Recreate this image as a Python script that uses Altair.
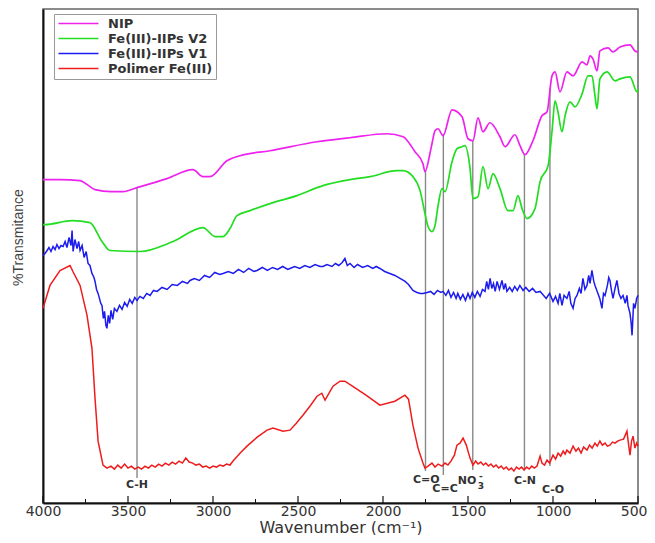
import altair as alt
import pandas as pd

# ---------------- data (wavenumber cm-1, transmittance arbitrary units) ----------------
nip_wn = [4000, 3988, 3900, 3782, 3740, 3694, 3600, 3529, 3447, 3271, 3118, 3059, 3018, 2918, 2841, 2665,
          2388, 2194, 1976, 1882, 1812, 1765, 1753, 1724, 1712, 1694, 1676, 1647, 1594, 1535, 1500,
          1471, 1441, 1412, 1371, 1312, 1282, 1224, 1194, 1165, 1118, 1065, 1035, 1006, 988, 959,
          918, 882, 829, 800, 782, 765, 741, 724, 676, 647, 606, 547, 518, 500]
nip_t = [324, 324, 324, 323, 319, 314, 312, 312, 316, 325, 334, 327, 327, 343, 348, 353,
         362, 366, 370, 367, 352, 340, 332, 350, 360, 373, 375, 368, 394, 387, 365,
         363, 386, 372, 381, 367, 357, 369, 358, 349, 363, 388, 392, 428, 432, 412,
         432, 428, 442, 439, 448, 445, 433, 453, 456, 452, 457, 459, 453, 452]

v2_wn = [4000, 3988, 3829, 3724, 3653, 3606, 3429, 3235, 3059, 2988, 2941, 2900, 2859, 2782, 2665,
         2506, 2353, 2194, 2076, 1918, 1882, 1824, 1782, 1753, 1735, 1712, 1694, 1676, 1653, 1635,
         1594, 1565, 1535, 1518, 1488, 1471, 1441, 1412, 1382, 1353, 1312, 1265, 1235, 1206, 1182,
         1153, 1106, 1076, 1029, 1006, 988, 971, 947, 929, 900, 871, 829, 794, 771, 753, 741, 724,
         682, 635, 606, 547, 506, 500]
v2_t = [279, 279, 283, 281, 262, 253, 252, 262, 276, 267, 267, 275, 288, 293, 300,
        308, 318, 324, 327, 333, 333, 327, 313, 290, 277, 272, 278, 298, 315, 312,
        342, 355, 357, 358, 335, 305, 307, 337, 315, 330, 315, 293, 293, 308, 295,
        285, 295, 322, 338, 372, 403, 392, 372, 388, 402, 397, 410, 428, 428, 408, 395, 425,
        432, 423, 425, 427, 412, 415]

v1_wn = [4000, 3988, 3976, 3965, 3953, 3941, 3929, 3918, 3906, 3894, 3882, 3870, 3859, 3847, 3835,
         3829, 3823, 3812, 3800, 3790, 3782, 3770, 3758, 3746, 3735, 3724, 3712, 3700, 3694, 3685,
         3676, 3668, 3660, 3653, 3645, 3638, 3630, 3624, 3616, 3608, 3600, 3590, 3580, 3565, 3550,
         3535, 3520, 3505, 3490, 3475, 3460, 3447, 3430, 3410, 3390, 3370, 3350, 3329, 3300, 3270,
         3240, 3210, 3180, 3150, 3135, 3110, 3080, 3050, 3020, 2990, 2960, 2941, 2910, 2880, 2850,
         2820, 2790, 2760, 2741, 2710, 2680, 2650, 2620, 2590, 2560, 2547, 2520, 2490, 2460, 2430,
         2400, 2370, 2353, 2330, 2300, 2280, 2260, 2240, 2224, 2210, 2194, 2170, 2150, 2120, 2090,
         2060, 2040, 2018, 1990, 1960, 1930, 1900, 1870, 1850, 1824, 1800, 1780, 1765, 1740, 1720,
         1700, 1680, 1660, 1647, 1630, 1615, 1600, 1585, 1570, 1560, 1545, 1530, 1515, 1500, 1488,
         1475, 1460, 1445, 1429, 1415, 1400, 1390, 1380, 1370, 1360, 1350, 1340, 1329, 1315, 1300,
         1290, 1280, 1271, 1255, 1240, 1225, 1210, 1195, 1176, 1160, 1140, 1120, 1100, 1076, 1060,
         1040, 1020, 1000, 985, 970, 960, 947, 935, 918, 905, 895, 882, 870, 859, 845,
         835, 824, 812, 800, 790, 782, 771, 760, 753, 740, 725, 712, 703, 694, 680,
         672, 665, 655, 647, 635, 624, 612, 600, 588, 575, 565, 559, 547, 540, 535,
         526, 518, 508, 500]
v1_t = [248, 250, 253, 256, 252, 257, 254, 259, 255, 258, 257, 262, 256, 266, 258,
        273, 252, 264, 255, 262, 253, 258, 246, 252, 240, 238, 230, 226, 222, 214,
        210, 205, 200, 198, 185, 192, 178, 175, 188, 180, 193, 184, 195, 192, 198,
        194, 201, 197, 204, 200, 206, 203, 207, 205, 210, 208, 213, 212, 216, 214,
        219, 218, 222, 220, 223, 225, 223, 228, 226, 231, 229, 230, 232, 230, 234,
        231, 235, 232, 233, 236, 233, 236, 234, 237, 234, 235, 237, 235, 238, 236,
        239, 237, 237, 239, 237, 240, 238, 241, 245, 238, 240, 236, 239, 236, 238,
        235, 237, 235, 232, 230, 228, 225, 222, 219, 213, 211, 210, 210, 211, 212,
        209, 213, 211, 212, 208, 213, 206, 211, 205, 210, 204, 209, 203, 210, 205,
        211, 206, 212, 207, 214, 212, 222, 214, 225, 215, 220, 212, 222, 214, 223,
        214, 220, 212, 216, 212, 217, 213, 218, 213, 216, 212, 215, 211, 212, 209,
        205, 210, 202, 207, 200, 210, 198, 208, 205, 212, 200, 195, 205, 208, 215,
        210, 225, 214, 218, 228, 220, 233, 222, 218, 212, 205, 195, 210, 208, 218,
        226, 223, 212, 205, 215, 223, 210, 205, 208, 200, 208, 198, 190, 180, 168,
        200, 195, 205, 208]

pol_wn = [4000, 3959, 3900, 3841, 3824, 3782, 3741, 3712, 3694, 3676, 3647, 3624, 3600, 3580, 3560,
          3540, 3520, 3500, 3480, 3460, 3440, 3420, 3400, 3380, 3360, 3340, 3320, 3300, 3280, 3260,
          3240, 3220, 3200, 3180, 3160, 3140, 3120, 3100, 3080, 3060, 3040, 3020, 3000, 2980, 2960,
          2940, 2920, 2900, 2882, 2840, 2800, 2740, 2682, 2647, 2588, 2547, 2510, 2471, 2430, 2388,
          2360, 2341, 2294, 2253, 2224, 2180, 2100, 2018, 1930, 1871, 1850, 1824, 1794, 1765, 1753,
          1735, 1712, 1694, 1676, 1653, 1635, 1618, 1600, 1580, 1565, 1547, 1529, 1510, 1500, 1488,
          1471, 1455, 1441, 1425, 1410, 1395, 1380, 1365, 1350, 1335, 1320, 1305, 1290, 1275, 1260,
          1245, 1230, 1215, 1200, 1185, 1170, 1155, 1140, 1125, 1110, 1094, 1076, 1065, 1050, 1035,
          1020, 1000, 985, 970, 955, 940, 929, 918, 900, 882, 865, 850, 835, 820, 800,
          785, 770, 753, 740, 724, 710, 694, 680, 665, 650, 635, 620, 606, 585, 575,
          565, 555, 547, 538, 529, 518, 508, 500]
pol_t = [195, 218, 233, 238, 232, 218, 188, 155, 105, 62, 38, 35, 37, 34, 38,
         35, 39, 35, 37, 34, 36, 34, 37, 35, 38, 36, 39, 37, 40, 38,
         41, 39, 42, 40, 45, 41, 40, 38, 39, 36, 37, 35, 37, 36, 38,
         37, 39, 38, 42, 50, 57, 66, 73, 75, 72, 73, 80, 88, 97, 107,
         110, 103, 117, 122, 122, 117, 108, 98, 102, 108, 104, 78, 55, 40, 35,
         37, 40, 36, 39, 37, 40, 38, 42, 48, 58, 60, 65, 58, 52, 45,
         38, 42, 39, 41, 38, 40, 37, 39, 36, 38, 35, 37, 34, 36, 33,
         35, 32, 36, 34, 36, 33, 36, 34, 37, 35, 37, 47, 40, 38, 43,
         40, 48, 44, 50, 47, 52, 49, 53, 50, 57, 52, 55, 50, 56, 53,
         58, 55, 60, 57, 62, 58, 60, 57, 58, 61, 60, 62, 63, 64, 68,
         72, 58, 48, 62, 67, 55, 60, 57]

series_names = ["NIP", "Fe(III)-IIPs V2", "Fe(III)-IIPs V1", "Polimer Fe(III)"]
series_colors = ["#ee22ee", "#22dd22", "#1c1cee", "#ee1c1c"]

# band assignment lines
ann_wn = [3447, 1750, 1645, 1472, 1168, 1018]
ann_top = [316, 333, 370, 363, 350, 415]
ann_bottom = [25, 32, 28, 33, 33, 37]

label_text = ["C-H", "C=O", "C=C", "NO", "C-N", "C-O"]
label_wn = [3447, 1745, 1635, 1506, 1165, 1000]
label_t = [18, 23, 14, 22, 22, 13]

ion_text = ["3", "-"]
ion_wn = [1424, 1424]
ion_t = [17, 27]

major_ticks = [4000, 3500, 3000, 2500, 2000, 1500, 1000, 500]
minor_ticks = [3750, 3250, 2750, 2250, 1750, 1250, 750]

# ---------------- build tables ----------------
frames = []
for name, wn, t in [(series_names[0], nip_wn, nip_t), (series_names[1], v2_wn, v2_t),
                    (series_names[2], v1_wn, v1_t), (series_names[3], pol_wn, pol_t)]:
    frames.append(pd.DataFrame({"wn": wn, "t": t, "series": name}))
df = pd.concat(frames, ignore_index=True)
smooth_df = df[df["series"].isin(series_names[:2])]
noisy_df = df[df["series"].isin(series_names[2:])]

ann_df = pd.DataFrame({"wn": ann_wn, "top": ann_top, "bottom": ann_bottom})
lab_df = pd.DataFrame({"wn": label_wn, "t": label_t, "text": label_text})
ion_df = pd.DataFrame({"wn": ion_wn, "t": ion_t, "text": ion_text})
maj_df = pd.DataFrame({"wn": major_ticks, "a": 0, "b": 7})
min_df = pd.DataFrame({"wn": minor_ticks, "a": 0, "b": 4})

FONT = "DejaVu Sans"
xscale = alt.Scale(domain=[4000, 500], nice=False, zero=False)
yscale = alt.Scale(domain=[0, 495], nice=False, zero=False)

xaxis = alt.Axis(values=major_ticks, format="d", title="Wavenumber (cm⁻¹)", ticks=False,
                 grid=False, domainColor="#111", domainWidth=2, labelFontSize=14,
                 labelColor="#333", labelPadding=1, titleFontSize=16, titleColor="#333",
                 titleFontWeight="normal", titleY=29, titleBaseline="alphabetic",
                 labelFont=FONT, titleFont=FONT, labelFlush=False,
                 labelAlign={"condition": {"test": "datum.value == 500", "value": "right"},
                             "value": "center"},
                 labelOffset={"condition": {"test": "datum.value == 500", "value": 9},
                              "value": 0})
yaxis = alt.Axis(labels=False, ticks=False, grid=False, title="%Transmitance",
                 domainColor="#111", domainWidth=2, titleFontSize=14, titleColor="#444",
                 titleFontWeight="normal", titleX=-25, titleY=228, titleBaseline="middle",
                 titleFont="Liberation Sans Narrow, Liberation Sans")

color = alt.Color("series:N",
                  scale=alt.Scale(domain=series_names, range=series_colors),
                  sort=series_names,
                  legend=alt.Legend(title=None, orient="none", legendX=11, legendY=5,
                                    symbolType="M-4,0H4", symbolSize=100, symbolStrokeWidth=1.6,
                                    symbolOffset=15, labelOffset=23,
                                    labelFontSize=13, labelFont=FONT, labelFontWeight="bold",
                                    labelColor="#333", strokeColor="#999", padding=3,
                                    rowPadding=1, fillColor="white"))

lines_smooth = alt.Chart(smooth_df).mark_line(strokeWidth=1.7, interpolate="monotone").encode(
    x=alt.X("wn:Q", scale=xscale, axis=xaxis),
    y=alt.Y("t:Q", scale=yscale, axis=yaxis),
    color=color,
)
lines_noisy = alt.Chart(noisy_df).mark_line(strokeWidth=1.5).encode(
    x=alt.X("wn:Q", scale=xscale, axis=xaxis),
    y=alt.Y("t:Q", scale=yscale, axis=yaxis),
    color=color,
)

ann = alt.Chart(ann_df).mark_rule(color="#888", strokeWidth=1.4).encode(
    x="wn:Q", y="bottom:Q", y2="top:Q")

labels = alt.Chart(lab_df).mark_text(fontSize=11, fontWeight="bold", color="#333",
                                     font=FONT).encode(
    x="wn:Q", y="t:Q", text="text:N")
ion = alt.Chart(ion_df).mark_text(fontSize=9, fontWeight="bold", color="#333",
                                  font=FONT).encode(
    x="wn:Q", y="t:Q", text="text:N")

maj = alt.Chart(maj_df).mark_rule(color="#111", strokeWidth=1.2).encode(
    x="wn:Q", y="a:Q", y2="b:Q")
mino = alt.Chart(min_df).mark_rule(color="#111", strokeWidth=1).encode(
    x="wn:Q", y="a:Q", y2="b:Q")

chart = alt.layer(ann, lines_smooth, lines_noisy, labels, ion, maj, mino).properties(
    width=595, height=494,
    padding={"left": 35, "top": 1, "right": 9, "bottom": 32},
    autosize=alt.AutoSizeParams(type="none"),
).configure_view(stroke="#666", strokeWidth=1.5)

chart.save("out.html", embed_options={"renderer": "svg", "actions": False})
